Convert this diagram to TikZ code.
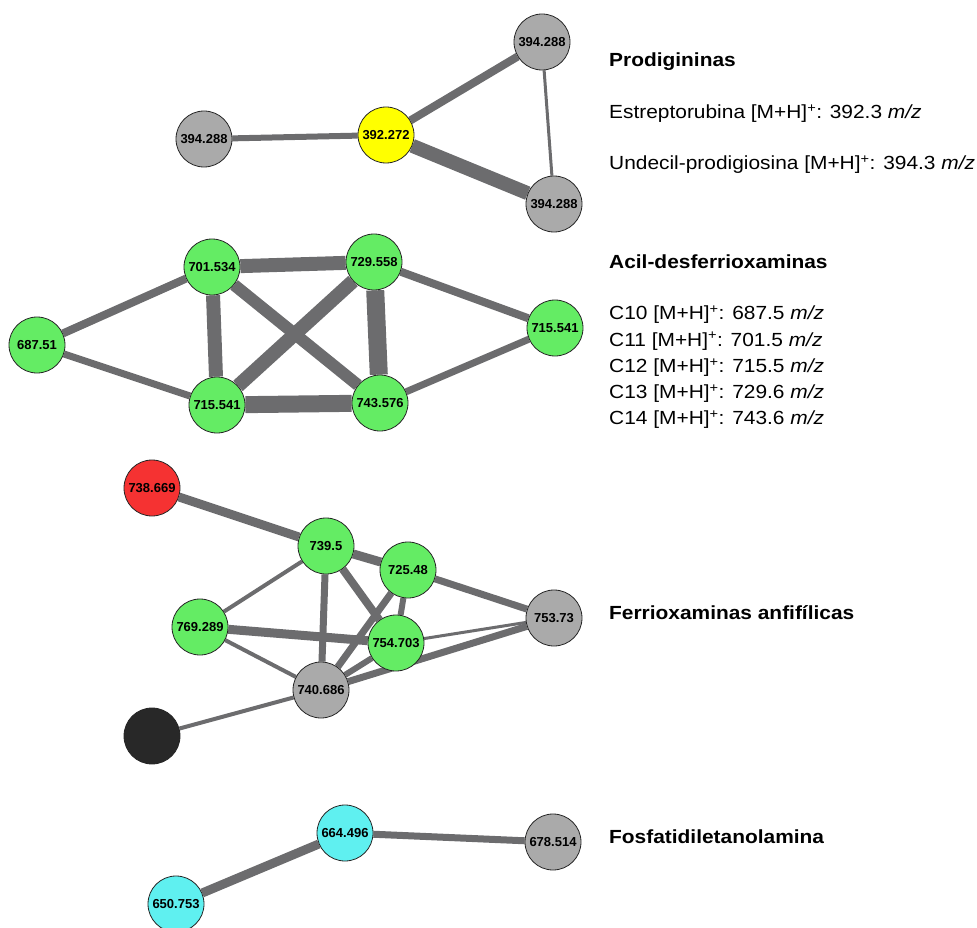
\documentclass[tikz,border=0pt]{standalone}
\usepackage{fontspec}
\setmainfont{Liberation Sans}
\setsansfont{Liberation Sans}
\newfontfamily\legendfont[FakeStretch=1.1]{Liberation Sans}
\usetikzlibrary{
  backgrounds,  % Predefined layer named "background"
}
\definecolor{nodegray}{RGB}{170,170,170}
\definecolor{nodegreen}{RGB}{100,236,100}
\definecolor{nodeyellow}{RGB}{255,255,0}
\definecolor{nodered}{RGB}{245,50,50}
\definecolor{nodecyan}{RGB}{95,240,240}
\definecolor{nodedark}{RGB}{40,40,40}
\definecolor{edgegray}{RGB}{108,108,110}
\def\mysize{56pt}
\tikzset{
  font=\sffamily,
  my node/.style={
    circle,
    draw=black!85,
    line width=0.8pt,
    minimum size=\mysize,
    inner sep=0mm,
    font=\sffamily\bfseries\fontsize{13}{13}\selectfont
  },
  gray node/.style={my node,fill=nodegray},
  green node/.style={my node,fill=nodegreen},
  yellow node/.style={my node,fill=nodeyellow},
  red node/.style={my node,fill=nodered},
  cyan node/.style={my node,fill=nodecyan},
  dark node/.style={my node,fill=nodedark},
  my edge/.style={
    draw=edgegray
  },
  my title/.style={
    anchor=base west,
    inner sep=0mm,
    font=\legendfont\bfseries\fontsize{19}{19}\selectfont
  },
  my text/.style={
    anchor=base west,
    inner sep=0mm,
    font=\legendfont\fontsize{19}{19}\selectfont
  }
}

\begin{document}
\begin{tikzpicture}[x=1pt,y=-1pt]
\useasboundingbox (0,0) rectangle (977,928);
% Prodigininas
\node[yellow node] (p0) at (386,135) {392.272};
\node[gray node]   (p1) at (204,139) {394.288};
\node[gray node]   (p2) at (542,42)  {394.288};
\node[gray node]   (p3) at (554,204) {394.288};
% Acil-desferrioxaminas
\node[green node]  (a1) at (37,345)  {687.51};
\node[green node]  (a2) at (212,267) {701.534};
\node[green node]  (a3) at (217,405) {715.541};
\node[green node]  (a4) at (374,262) {729.558};
\node[green node]  (a5) at (380,403) {743.576};
\node[green node]  (a6) at (555,328) {715.541};
% Ferrioxaminas anfifilicas
\node[red node]    (f1) at (152,488) {738.669};
\node[green node]  (f2) at (326,546) {739.5};
\node[green node]  (f3) at (408,570) {725.48};
\node[green node]  (f4) at (200,627) {769.289};
\node[green node]  (f5) at (396,643) {754.703};
\node[gray node]   (f6) at (554,618) {753.73};
\node[gray node]   (f7) at (321,690) {740.686};
\node[dark node]   (f8) at (152,736) {};
% Fosfatidiletanolamina
\node[cyan node]   (e1) at (345,833) {664.496};
\node[gray node]   (e2) at (553,842) {678.514};
\node[cyan node]   (e3) at (176,904) {650.753};

\begin{pgfonlayer}{background}
\path[my edge] (p1) edge[line width=6pt]  (p0)
               (p0) edge[line width=8pt]  (p2)
               (p0) edge[line width=14pt] (p3)
               (p2) edge[line width=3pt]  (p3);
\path[my edge] (a1) edge[line width=8pt]  (a2)
               (a1) edge[line width=7pt]  (a3)
               (a2) edge[line width=14pt] (a4)
               (a2) edge[line width=14pt] (a3)
               (a2) edge[line width=12pt] (a5)
               (a4) edge[line width=14pt] (a3)
               (a4) edge[line width=18pt] (a5)
               (a3) edge[line width=17pt] (a5)
               (a4) edge[line width=8pt]  (a6)
               (a5) edge[line width=7pt]  (a6);
\path[my edge] (f1) edge[line width=9pt]  (f2)
               (f2) edge[line width=9pt]  (f3)
               (f3) edge[line width=7pt]  (f6)
               (f2) edge[line width=4pt]  (f4)
               (f4) edge[line width=9pt]  (f5)
               (f4) edge[line width=4pt]  (f7)
               (f2) edge[line width=7pt]  (f7)
               (f2) edge[line width=8pt]  (f5)
               (f3) edge[line width=7pt]  (f7)
               (f3) edge[line width=6pt]  (f5)
               (f5) edge[line width=6pt]  (f7)
               (f5) edge[line width=3pt]  (f6)
               (f7) edge[line width=7pt]  (f6)
               (f8) edge[line width=4pt]  (f7);
\path[my edge] (e3) edge[line width=9pt]  (e1)
               (e1) edge[line width=7pt]  (e2);
\end{pgfonlayer}

% Leyenda
\node[my title] (t1) at (609,66.5)  {Prodigininas};
\node[my text]  (t2) at (609,118.5) {Estreptorubina [M+H]\textsuperscript{+}: 392.3 \textit{m/z}};
\node[my text]  (t3) at (609,169.5) {Undecil-prodigiosina [M+H]\textsuperscript{+}: 394.3 \textit{m/z}};
\node[my title] (t4) at (609,268.5) {Acil-desferrioxaminas};
\node[my text]  (c10) at (609,319.5) {C10 [M+H]\textsuperscript{+}: 687.5 \textit{m/z}};
\node[my text]  (c11) at (609,346)   {C11 [M+H]\textsuperscript{+}: 701.5 \textit{m/z}};
\node[my text]  (c12) at (609,372.5) {C12 [M+H]\textsuperscript{+}: 715.5 \textit{m/z}};
\node[my text]  (c13) at (609,398.5) {C13 [M+H]\textsuperscript{+}: 729.6 \textit{m/z}};
\node[my text]  (c14) at (609,424.5) {C14 [M+H]\textsuperscript{+}: 743.6 \textit{m/z}};
\node[my title] (t5) at (609,619.5) {Ferrioxaminas anfifílicas};
\node[my title] (t6) at (609,843.5) {Fosfatidiletanolamina};
\end{tikzpicture}
\end{document}
